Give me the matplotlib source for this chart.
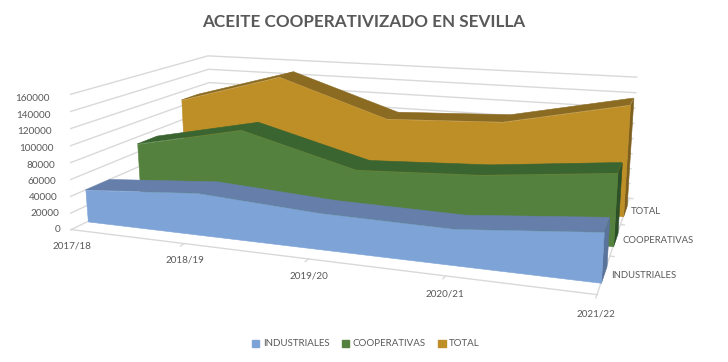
import numpy as np
import matplotlib
matplotlib.use('Agg')
import matplotlib.pyplot as plt
from matplotlib.patches import Patch
from mpl_toolkits.mplot3d import proj3d
from mpl_toolkits.mplot3d.art3d import Poly3DCollection

campaigns = ['2017/18', '2018/19', '2019/20', '2020/21', '2021/22']
industriales = [39900, 50700, 42200, 40400, 53900]
cooperativas = [70900, 100600, 62000, 69200, 84900]
total = [108500, 149300, 101600, 108100, 139300]
z_ticks = [0, 20000, 40000, 60000, 80000, 100000, 120000, 140000, 160000]

plt.rcParams['font.family'] = ['Lato', 'DejaVu Sans']
grey = '#595959'
grid = '#d9d9d9'

fig = plt.figure(figsize=(7.28, 3.62), dpi=100)
ax = fig.add_subplot(projection='3d', computed_zorder=False)
ax.set_xlim(0, 4)
ax.set_ylim(0, 1)
ax.set_zlim(0, 160000)
ax.set_proj_type('persp', focal_length=0.313)
ax.view_init(13.812, -69.936, 0.316)
ax.set_box_aspect((3.83, 2.174, 1))
ax.set_position([0.09547, -0.2273, 0.7848, 1.578])
ax.set_axis_off()

xs = np.arange(len(campaigns))

# back wall + left wall lines
for z in z_ticks:
    ax.plot([0, 0, 4], [0, 1, 1], [z, z, z], color=grid, lw=1, zorder=1)
ax.plot([0, 4], [0, 0], [0, 0], color=grid, lw=1, zorder=1)
ax.plot([4, 4], [0, 1], [0, 0], color=grid, lw=1, zorder=1)
for x in xs:
    ax.plot([x, x], [0, -0.025], [0, 0], color=grid, lw=1, zorder=1)
for d in [1/3, 2/3, 1]:
    ax.plot([4, 4.03], [d, d], [0, 0], color=grid, lw=1, zorder=1)


def area(vals, d0, d1, front, top, side, zo):
    side_q = [[(4, d0, 0), (4, d1, 0), (4, d1, vals[-1]), (4, d0, vals[-1])]]
    top_q = [[(i, d0, vals[i]), (i + 1, d0, vals[i + 1]),
              (i + 1, d1, vals[i + 1]), (i, d1, vals[i])] for i in range(4)]
    front_q = [[(0, d0, 0)] + [(i, d0, vals[i]) for i in xs] + [(4, d0, 0)]]
    for k, (q, c) in enumerate([(side_q, side), (top_q, top), (front_q, front)]):
        ax.add_collection3d(Poly3DCollection(q, facecolor=c, edgecolor=c, linewidth=0.4,
                                             shade=False, zorder=zo + k))


area(total, 0.765, 0.90, '#be8e27', '#8b6b22', '#7d5f1e', 10)
area(cooperativas, 0.43, 0.57, '#54823e', '#3a6530', '#2c5028', 20)
area(industriales, 0.095, 0.24, '#7da3d7', '#657faa', '#5a739b', 30)


def label(x, y, z, s, **kw):
    # plain 2D text at the projected spot of a 3D point
    tx, ty, _ = proj3d.proj_transform(x, y, z, ax.get_proj())
    ax.text2D(float(tx), float(ty), s, transform=ax.transData, color=grey, **kw)


for z in z_ticks:
    label(-0.1, 0, z - 2000, str(z), ha='right', va='center', fontsize=7.2)
for x, lab in zip(xs, campaigns):
    label(x, 0, -20000, lab, ha='center', va='center', fontsize=7.1)
for d, lab in zip([0.167, 0.5, 0.833], ['INDUSTRIALES', 'COOPERATIVAS', 'TOTAL']):
    label(4.05, d, 0, lab, ha='left', va='center', fontsize=6.8)

fig.text(364 / 728, 1 - 22 / 362, 'ACEITE COOPERATIVIZADO EN SEVILLA', ha='center', va='center',
         fontsize=12.3, fontweight='bold', color=grey)

handles = [Patch(color='#7da3d7', label='INDUSTRIALES'),
           Patch(color='#54823e', label='COOPERATIVAS'),
           Patch(color='#be8e27', label='TOTAL')]
fig.legend(handles=handles, ncol=3, loc='center', bbox_to_anchor=(366 / 728, 1 - 344 / 362),
           frameon=False, fontsize=7, labelcolor=grey, handlelength=0.75, handleheight=0.75,
           handletextpad=0.35, columnspacing=1.3)

fig.savefig('out.png', dpi=100)
